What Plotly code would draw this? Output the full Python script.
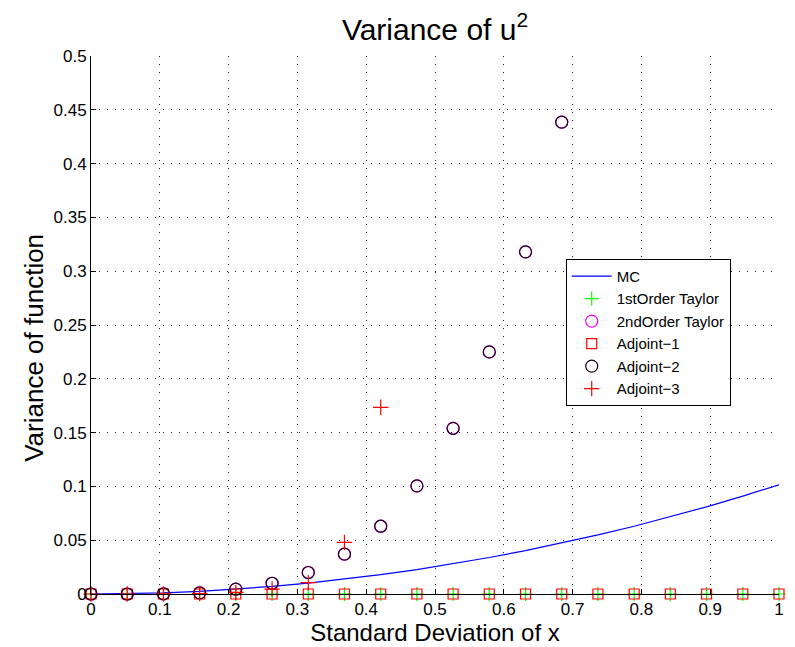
import plotly.graph_objects as go

# Standard deviation of x (20 evenly spaced samples on [0, 1])
sigma = [0.0, 0.0526, 0.1053, 0.1579, 0.2105, 0.2632, 0.3158, 0.3684, 0.4211, 0.4737,
         0.5263, 0.5789, 0.6316, 0.6842, 0.7368, 0.7895, 0.8421, 0.8947, 0.9474, 1.0]

# Monte Carlo variance of u^2
var_mc = [0.0, 0.0003, 0.0011, 0.0025, 0.0045, 0.0070, 0.0101, 0.0138, 0.0180, 0.0227,
          0.0280, 0.0339, 0.0403, 0.0473, 0.0549, 0.0630, 0.0717, 0.0810, 0.0910, 0.1015]

# First-order Taylor and Adjoint-1 estimates (zero everywhere)
var_taylor1 = [0.0] * 20
var_adjoint1 = [0.0] * 20

# Second-order Taylor and Adjoint-2 estimates (values inside the axes range)
sigma_adj2 = sigma[:14]
var_taylor2 = [0.0, 0.0, 0.0002, 0.0011, 0.0045, 0.0100, 0.0200, 0.0370, 0.0630, 0.1005,
               0.1540, 0.2250, 0.3180, 0.4385]
var_adjoint2 = list(var_taylor2)

# Adjoint-3 estimates (values inside the axes range)
sigma_adj3 = sigma[:9]
var_adjoint3 = [0.0, 0.0, 0.0001, 0.0004, 0.0015, 0.0045, 0.0105, 0.0480, 0.1735]

x_ticks = [0, 0.1, 0.2, 0.3, 0.4, 0.5, 0.6, 0.7, 0.8, 0.9, 1]
x_labels = ["0", "0.1", "0.2", "0.3", "0.4", "0.5", "0.6", "0.7", "0.8", "0.9", "1"]
y_ticks = [0, 0.05, 0.1, 0.15, 0.2, 0.25, 0.3, 0.35, 0.4, 0.45, 0.5]
y_labels = ["0", "0.05", "0.1", "0.15", "0.2", "0.25", "0.3", "0.35", "0.4", "0.45", "0.5"]

fig = go.Figure()
fig.add_trace(go.Scatter(x=sigma, y=var_mc, mode="lines", name="MC",
                         line=dict(color="#0000ff", width=1.2)))
fig.add_trace(go.Scatter(x=sigma, y=var_taylor1, mode="markers", name="1stOrder Taylor",
                         cliponaxis=False,
                         marker=dict(symbol="cross-thin-open", size=10, color="#00ff00",
                                     line=dict(color="#00ff00", width=1.2))))
fig.add_trace(go.Scatter(x=sigma_adj2, y=var_taylor2, mode="markers", name="2ndOrder Taylor",
                         cliponaxis=False,
                         marker=dict(symbol="circle-open", size=12, color="#ff00ff",
                                     line=dict(color="#ff00ff", width=1.2))))
fig.add_trace(go.Scatter(x=sigma, y=var_adjoint1, mode="markers", name="Adjoint\u22121",
                         cliponaxis=False,
                         marker=dict(symbol="square-open", size=10, color="#ff0000",
                                     line=dict(color="#ff0000", width=1.2))))
fig.add_trace(go.Scatter(x=sigma_adj2, y=var_adjoint2, mode="markers", name="Adjoint\u22122",
                         cliponaxis=False,
                         marker=dict(symbol="circle-open", size=12, color="#1a001a",
                                     line=dict(color="#1a001a", width=1.2))))
fig.add_trace(go.Scatter(x=sigma_adj3, y=var_adjoint3, mode="markers", name="Adjoint\u22123",
                         cliponaxis=False,
                         marker=dict(symbol="cross-thin-open", size=11, color="#ff0000",
                                     line=dict(color="#ff0000", width=1.2))))

font_family = "Liberation Sans, Arial, sans-serif"
axis_common = dict(
    showline=True, linecolor="black", linewidth=1, mirror=False,
    ticks="inside", ticklen=5, tickcolor="black", tickwidth=1,
    showgrid=True, gridcolor="#222222", gridwidth=1, griddash="1px,7px",
    zeroline=False, automargin=False,
)

fig.update_layout(
    width=795, height=647,
    margin=dict(l=91, r=16, t=56, b=53, autoexpand=False),
    paper_bgcolor="white", plot_bgcolor="white",
    font=dict(family=font_family, color="black", size=17),
    title=dict(text="Variance of u<sup>2</sup>", x=0.5, xref="paper", xanchor="center",
               y=0.955, yanchor="middle", font=dict(size=30, color="black")),
    xaxis=dict(range=[0, 1], tickvals=x_ticks, ticktext=x_labels,
               title=dict(text="Standard Deviation of x", standoff=4,
                          font=dict(size=24, color="black")),
               **axis_common),
    yaxis=dict(range=[0, 0.5], tickvals=y_ticks, ticktext=y_labels,
               **axis_common),
    legend=dict(x=0.69, y=0.623, xanchor="left", yanchor="top",
                bgcolor="white", bordercolor="black", borderwidth=1,
                font=dict(size=15, color="black", family=font_family),
                tracegroupgap=0, itemwidth=40),
    showlegend=True,
    annotations=[dict(text="Variance of function", textangle=-90,
                      xref="paper", yref="paper", x=-0.084, y=0.458,
                      xanchor="center", yanchor="middle", showarrow=False,
                      font=dict(size=26, color="black", family=font_family))],
)
fig.update_xaxes(tickfont=dict(size=17, family=font_family, color="black"))
fig.update_yaxes(tickfont=dict(size=17, family=font_family, color="black"))

fig.write_html("out.html")
